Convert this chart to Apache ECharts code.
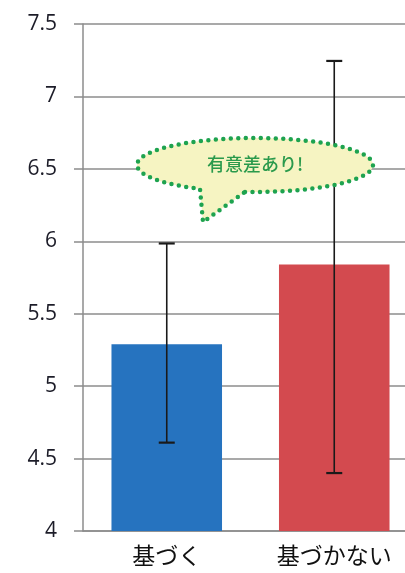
<!DOCTYPE html>
<html>
<head>
<meta charset="utf-8">
<script src="https://cdn.jsdelivr.net/npm/echarts@6/dist/echarts.min.js"></script>
<style>
html,body{margin:0;padding:0;background:#fff;overflow:hidden;}
#main{width:418px;height:573px;}
</style>
</head>
<body>
<div id="main"></div>
<script>
const categories = ['基づく', '基づかない'];
const means = [5.29, 5.84];
const lowerErr = [4.61, 4.40];
const upperErr = [5.985, 7.245];
const barColors = ['#2673bf', '#d34a4f'];
const yTicks = { min: 4, max: 7.5, interval: 0.5 };
const calloutText = '有意差あり!';

const chart = echarts.init(document.getElementById('main'), null, { renderer: 'canvas' });
const FONT = '"Noto Sans CJK JP", "Noto Sans", sans-serif';

const errData = categories.map((c, i) => [i, lowerErr[i], upperErr[i]]);

// speech bubble outline (annotation)
const cx = 255, cy = 165, rx = 118, ry = 27;
const bL = 200, bR = 245, tip = [203, 222];
function angOf(x) { return Math.acos((x - cx) / rx); }
const aR = angOf(bR), aL = angOf(bL);
const pts = [];
const start = aR, end = aL - 2 * Math.PI;
const N = 120;
for (let k = 0; k <= N; k++) {
  const a = start + (end - start) * k / N;
  pts.push([cx + rx * Math.cos(a), cy + ry * Math.sin(a)]);
}
pts.push(tip);

chart.setOption({
  animation: false,
  backgroundColor: '#ffffff',
  grid: { left: 83, right: 0, top: 24, bottom: 42, containLabel: false },
  xAxis: {
    type: 'category',
    data: categories,
    axisLine: { show: true, lineStyle: { color: '#8c8c8c', width: 1.5 } },
    axisTick: { show: false },
    axisLabel: { fontSize: 23, color: '#111', fontFamily: FONT, margin: 13 }
  },
  yAxis: {
    type: 'value',
    min: yTicks.min, max: yTicks.max, interval: yTicks.interval,
    axisLine: { show: true, lineStyle: { color: '#8c8c8c', width: 1.5 } },
    axisTick: { show: true, length: 9, lineStyle: { color: '#8c8c8c', width: 1.5 } },
    splitLine: { show: true, lineStyle: { color: '#8c8c8c', width: 1.5 } },
    axisLabel: { fontSize: 21, color: '#1c1c28', fontFamily: '"Open Sans", "Noto Sans", sans-serif', margin: 26 }
  },
  series: [
    {
      type: 'bar',
      data: means.map((v, i) => ({ value: v, itemStyle: { color: barColors[i] } })),
      barWidth: '66%',
      z: 2
    },
    {
      type: 'custom',
      data: errData,
      z: 3,
      renderItem: function (params, api) {
        const x = api.value(0);
        const lo = api.coord([x, api.value(1)]);
        const hi = api.coord([x, api.value(2)]);
        const hw = 8;
        return {
          type: 'group',
          children: [
            { type: 'line', shape: { x1: lo[0], y1: lo[1], x2: hi[0], y2: hi[1] }, style: { stroke: '#1a1a1a', lineWidth: 1.6 } },
            { type: 'line', shape: { x1: lo[0] - hw, y1: lo[1], x2: lo[0] + hw, y2: lo[1] }, style: { stroke: '#1a1a1a', lineWidth: 2.2 } },
            { type: 'line', shape: { x1: hi[0] - hw, y1: hi[1], x2: hi[0] + hw, y2: hi[1] }, style: { stroke: '#1a1a1a', lineWidth: 2.2 } }
          ]
        };
      }
    }
  ],
  graphic: [
    {
      type: 'polygon',
      z: 10,
      shape: { points: pts },
      style: { fill: '#f6f4c2', stroke: '#1ea34f', lineWidth: 4.5, lineDash: [0, 7.5], lineCap: 'round', lineJoin: 'round' }
    },
    {
      type: 'text',
      z: 11,
      x: cx, y: cy - 1,
      style: {
        text: calloutText, fill: '#2a9a4c', fontSize: 18, fontWeight: 500,
        fontFamily: FONT, align: 'center', verticalAlign: 'middle'
      }
    }
  ]
});
</script>
</body>
</html>
